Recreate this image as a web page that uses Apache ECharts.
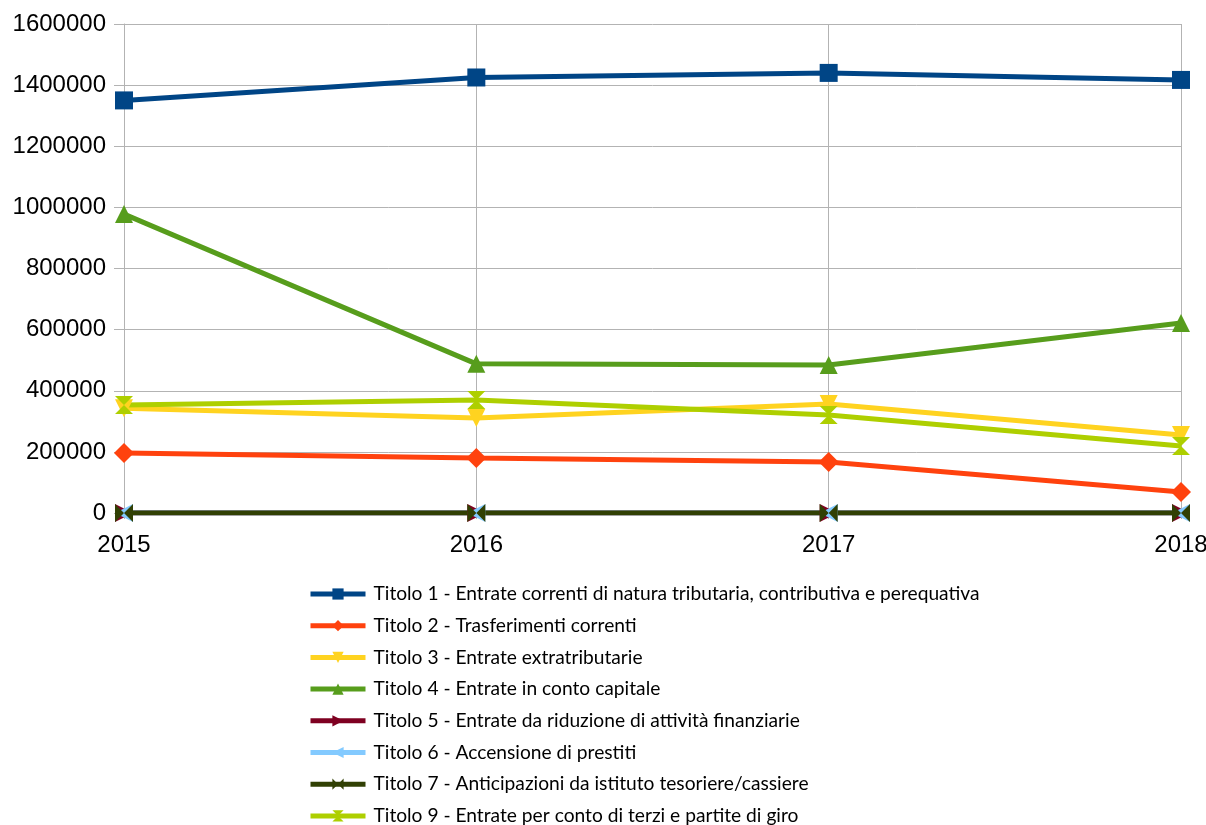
<!DOCTYPE html>
<html><head><meta charset="utf-8">
<script src="https://cdn.jsdelivr.net/npm/echarts@6/dist/echarts.min.js"></script>
<style>html,body{margin:0;padding:0;background:#fff}#c{width:1206px;height:825px}</style>
</head><body><div id="c"></div>
<script>
const categories = ['2015','2016','2017','2018'];
const yTicks = [0,200000,400000,600000,800000,1000000,1200000,1400000,1600000];
const seriesNames = [
  'Titolo 1 - Entrate correnti di natura tributaria, contributiva e perequativa',
  'Titolo 2 - Trasferimenti correnti',
  'Titolo 3 - Entrate extratributarie',
  'Titolo 4 - Entrate in conto capitale',
  'Titolo 5 - Entrate da riduzione di attività finanziarie',
  'Titolo 6 - Accensione di prestiti',
  'Titolo 7 - Anticipazioni da istituto tesoriere/cassiere',
  'Titolo 9 - Entrate per conto di terzi e partite di giro'
];
const titolo1 = [1350000,1425000,1440000,1417000];
const titolo2 = [196000,180000,167000,69000];
const titolo3 = [343000,311000,357000,255000];
const titolo4 = [978000,488000,484000,622000];
const titolo5 = [0,0,0,0];
const titolo6 = [0,0,0,0];
const titolo7 = [0,0,0,0];
const titolo9 = [353000,370000,321000,219000];

const values = [titolo1,titolo2,titolo3,titolo4,titolo5,titolo6,titolo7,titolo9];
const colors = ['#004586','#ff420e','#ffd320','#579d1c','#7e0021','#83caff','#314004','#aecf00'];
const symbols = [
  {s:'rect',r:0,size:18},
  {s:'diamond',r:0,size:20},
  {s:'triangle',r:180,size:18},
  {s:'triangle',r:0,size:18},
  {s:'triangle',r:-90,size:18},
  {s:'triangle',r:90,size:18},
  {s:'path://M0,0 L5,5 L10,0 L10,10 L5,5 L0,10 Z',r:0,size:18},
  {s:'path://M0,0 L10,0 L5,5 L10,10 L0,10 L5,5 Z',r:0,size:18}
];

const chart = echarts.init(document.getElementById('c'), null, {renderer:'canvas'});
chart.setOption({
  animation:false,
  backgroundColor:'#fff',
  grid:{left:124,right:25,top:24,bottom:312,containLabel:false,outerBoundsMode:'none'},
  xAxis:{
    type:'category',data:categories,boundaryGap:false,
    axisLine:{show:true,lineStyle:{color:'#b3b3b3',width:1}},
    axisTick:{show:true,length:6,lineStyle:{color:'#b3b3b3'}},
    splitLine:{show:true,lineStyle:{color:'#b3b3b3',width:1}},
    axisLabel:{color:'#000',fontFamily:'Liberation Sans',fontSize:24,margin:20}
  },
  yAxis:{
    type:'value',min:0,max:1600000,interval:200000,
    axisLine:{show:true,lineStyle:{color:'#b3b3b3',width:1}},
    axisTick:{show:true,length:10,lineStyle:{color:'#b3b3b3'}},
    splitLine:{show:true,lineStyle:{color:'#b3b3b3',width:1}},
    axisLabel:{color:'#000',fontFamily:'Liberation Sans',fontSize:24,margin:18,
      formatter:v=>yTicks.includes(v)?String(v):''}
  },
  legend:{
    orient:'vertical',left:308,top:584,height:260,padding:0,itemWidth:55,itemHeight:14,itemGap:11.7,
    lineStyle:{width:5},
    textStyle:{fontFamily:'Lato',fontSize:19.2,lineHeight:20,color:'#000',padding:[0,0,0,3]},
    data:seriesNames
  },
  series:seriesNames.map((n,i)=>({
    name:n,type:'line',data:values[i],
    symbol:symbols[i].s,symbolRotate:symbols[i].r,symbolSize:symbols[i].size,
    showAllSymbol:true,
    lineStyle:{width:5,color:colors[i]},
    itemStyle:{color:colors[i],borderWidth:0},
    emphasis:{disabled:true}
  }))
});
</script></body></html>
